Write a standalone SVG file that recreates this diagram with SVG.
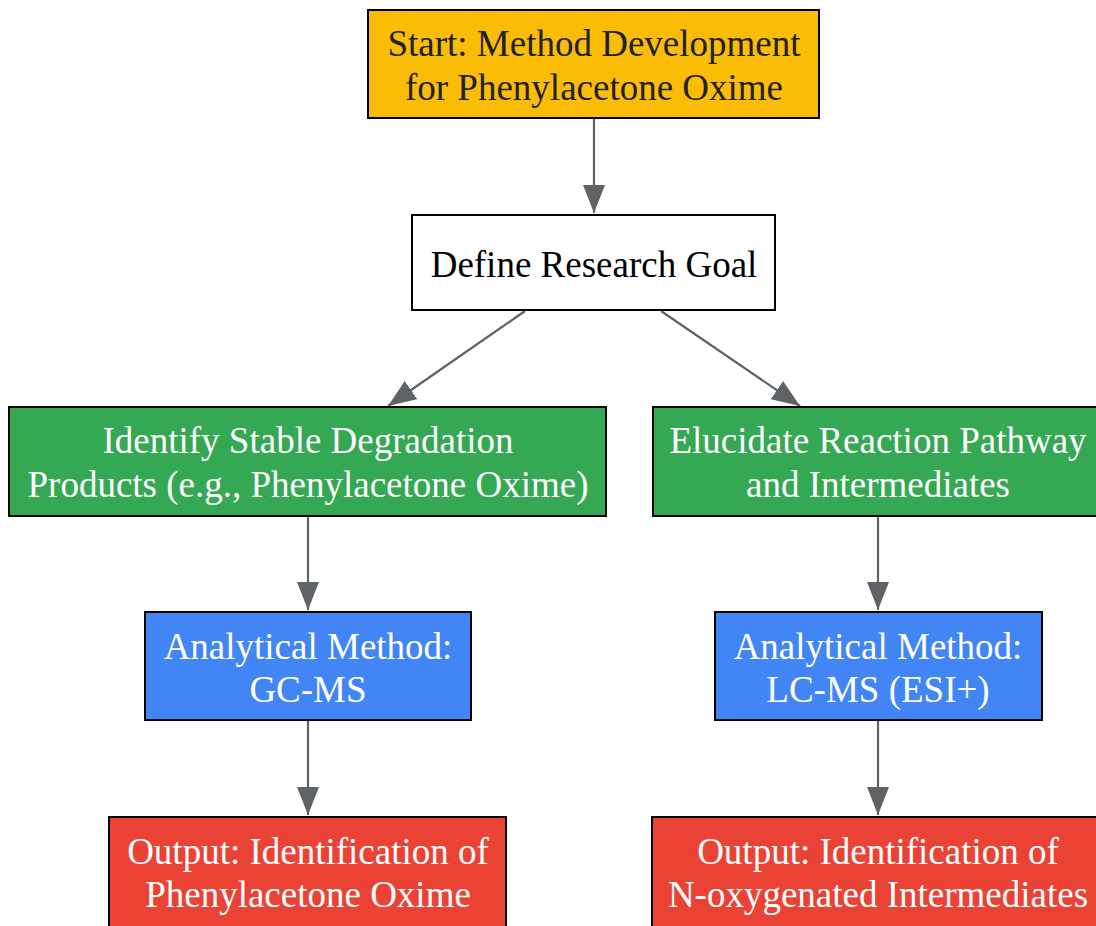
<svg xmlns="http://www.w3.org/2000/svg" width="1096" height="926" viewBox="0 0 1096 926">
<style>
.box{stroke:#000;stroke-width:2}
text{font-family:"Liberation Serif","Times New Roman",serif;font-size:37px;text-anchor:middle}
.dark{fill:#202124}
.light{fill:#fff}
.edge{stroke:#5F6368;stroke-width:2.2;fill:none}
</style>
<defs>
<marker id="arr" viewBox="0 0 28 22" refX="28" refY="11" markerWidth="28" markerHeight="22" markerUnits="userSpaceOnUse" orient="auto">
<path d="M0,0 L28,11 L0,22 z" fill="#5F6368"/>
</marker>
</defs>
<rect width="1096" height="926" fill="#fff"/>
<g id="connectors">
<path class="edge" d="M594,119 L594,213" marker-end="url(#arr)"/>
<path class="edge" d="M525,311 L388,406" marker-end="url(#arr)"/>
<path class="edge" d="M661,311 L800,406" marker-end="url(#arr)"/>
<path class="edge" d="M308,517 L308,610" marker-end="url(#arr)"/>
<path class="edge" d="M878,517 L878,610" marker-end="url(#arr)"/>
<path class="edge" d="M308,721 L308,815" marker-end="url(#arr)"/>
<path class="edge" d="M878,721 L878,815" marker-end="url(#arr)"/>
</g>
<g id="start">
<rect class="box" x="368" y="10" width="451" height="108" fill="#FBBC05"/>
<text class="dark" x="594" y="56">Start: Method Development</text>
<text class="dark" x="594" y="100">for Phenylacetone Oxime</text>
</g>
<g id="goal">
<rect class="box" x="412" y="215" width="363" height="95" fill="#fff"/>
<text fill="#000" x="594" y="277">Define Research Goal</text>
</g>
<g id="identify">
<rect class="box" x="9" y="407" width="597" height="109" fill="#34A853"/>
<text class="light" x="308" y="453">Identify Stable Degradation</text>
<text class="light" x="308" y="497">Products (e.g., Phenylacetone Oxime)</text>
</g>
<g id="elucidate">
<rect class="box" x="653" y="407" width="451" height="109" fill="#34A853"/>
<text class="light" x="878" y="453">Elucidate Reaction Pathway</text>
<text class="light" x="878" y="497">and Intermediates</text>
</g>
<g id="gcms">
<rect class="box" x="145" y="612" width="326" height="108" fill="#4285F4"/>
<text class="light" x="308" y="659">Analytical Method:</text>
<text class="light" x="308" y="702">GC-MS</text>
</g>
<g id="lcms">
<rect class="box" x="715" y="612" width="327" height="108" fill="#4285F4"/>
<text class="light" x="878" y="659">Analytical Method:</text>
<text class="light" x="878" y="702">LC-MS (ESI+)</text>
</g>
<g id="out1">
<rect class="box" x="109" y="817" width="397" height="115" fill="#EA4335"/>
<text class="light" x="308" y="864">Output: Identification of</text>
<text class="light" x="308" y="907">Phenylacetone Oxime</text>
</g>
<g id="out2">
<rect class="box" x="652" y="817" width="452" height="115" fill="#EA4335"/>
<text class="light" x="878" y="864">Output: Identification of</text>
<text class="light" x="878" y="907">N-oxygenated Intermediates</text>
</g>
</svg>
